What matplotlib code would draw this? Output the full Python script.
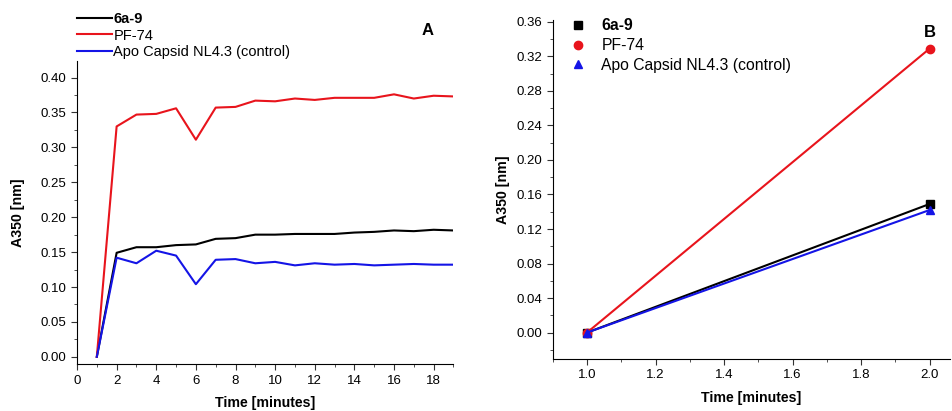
import matplotlib
matplotlib.use("Agg")
import matplotlib.pyplot as plt
from matplotlib.ticker import MultipleLocator

plt.rcParams['font.family'] = ['Liberation Sans', 'DejaVu Sans']

# panel A: time course
time_a = list(range(1, 20))
a_6a9 = [0, 0.149, 0.157, 0.157, 0.160, 0.161, 0.169, 0.170, 0.175, 0.175,
         0.176, 0.176, 0.176, 0.178, 0.179, 0.181, 0.180, 0.182, 0.181]
a_pf74 = [0, 0.330, 0.347, 0.348, 0.356, 0.311, 0.357, 0.358, 0.367, 0.366,
          0.370, 0.368, 0.371, 0.371, 0.371, 0.376, 0.370, 0.374, 0.373]
a_apo = [0, 0.142, 0.134, 0.152, 0.145, 0.104, 0.139, 0.140, 0.134, 0.136,
         0.131, 0.134, 0.132, 0.133, 0.131, 0.132, 0.133, 0.132, 0.132]

# panel B: first two minutes
time_b = [1.0, 2.0]
b_6a9 = [0, 0.149]
b_pf74 = [0, 0.329]
b_apo = [0, 0.142]

labels = ["6a-9", "PF-74", "Apo Capsid NL4.3 (control)"]
colors = ["black", "#e8141c", "#1414e6"]

fig = plt.figure(figsize=(9.53, 4.11), dpi=100)
axA = fig.add_axes([0.0808, 0.114, 0.395, 0.738])
axB = fig.add_axes([0.580, 0.1265, 0.417, 0.8245])

for ax in (axA, axB):
    ax.spines['top'].set_visible(False)
    ax.spines['right'].set_visible(False)
    ax.tick_params(direction='out', labelsize=9.5, length=4, color='#333333')
    ax.tick_params(which='minor', direction='out', length=2.5, color='#333333')
    ax.set_xlabel("Time [minutes]", fontsize=10.2, fontweight='bold')
    ax.set_ylabel("A350 [nm]", fontsize=10.2, fontweight='bold')

# A
for ys, lab, c in zip([a_6a9, a_pf74, a_apo], labels, colors):
    axA.plot(time_a, ys, color=c, lw=1.5, label=lab)
axA.set_xlim(0, 19)
axA.set_ylim(-0.0105, 0.424)
axA.xaxis.set_major_locator(MultipleLocator(2))
axA.xaxis.set_minor_locator(MultipleLocator(1))
axA.yaxis.set_major_locator(MultipleLocator(0.05))
axA.yaxis.set_minor_locator(MultipleLocator(0.025))
axA.yaxis.set_major_formatter(matplotlib.ticker.FormatStrFormatter('%.2f'))
axA.yaxis.labelpad = 11
axA.xaxis.labelpad = 7
legA = axA.legend(loc='upper left', bbox_to_anchor=(0.0808, 0.970), bbox_transform=fig.transFigure,
                  frameon=False, fontsize=10.5, handlelength=2.4, handletextpad=0.1,
                  labelspacing=0.15, borderaxespad=0, borderpad=0)
legA.get_texts()[0].set_fontweight('bold')
fig.text(0.449, 0.925, "A", fontsize=12, fontweight='bold', ha='center', va='center')

# B
markers = ['s', 'o', '^']
for ys, lab, c, m in zip([b_6a9, b_pf74, b_apo], labels, colors, markers):
    axB.plot(time_b, ys, color=c, lw=1.5, marker=m, ms=6, label=lab)
axB.set_xlim(0.9, 2.06)
axB.set_ylim(-0.0306, 0.362)
axB.xaxis.set_major_locator(MultipleLocator(0.2))
axB.xaxis.set_minor_locator(MultipleLocator(0.1))
axB.yaxis.set_major_locator(MultipleLocator(0.04))
axB.yaxis.set_minor_locator(MultipleLocator(0.02))
axB.xaxis.set_major_formatter(matplotlib.ticker.FormatStrFormatter('%.1f'))
axB.yaxis.set_major_formatter(matplotlib.ticker.FormatStrFormatter('%.2f'))
axB.yaxis.labelpad = 5
axB.xaxis.labelpad = 7
legB = axB.legend(loc='upper left', bbox_to_anchor=(0.598, 0.955), bbox_transform=fig.transFigure,
                  frameon=False, fontsize=11.3, handlelength=1.0, handletextpad=1.0,
                  labelspacing=0.3, borderaxespad=0, borderpad=0)
for h in legB.legend_handles:
    h.set_linestyle('None')
legB.get_texts()[0].set_fontweight('bold')
fig.text(0.976, 0.92, "B", fontsize=12, fontweight='bold', ha='center', va='center')

fig.savefig("out.png", dpi=100, facecolor='white')
